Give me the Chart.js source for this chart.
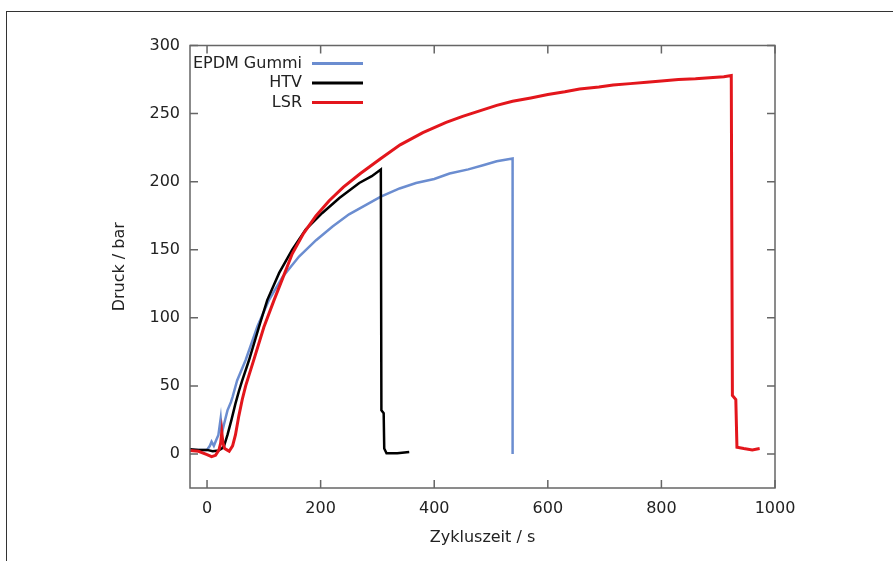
<!DOCTYPE html>
<html>
<head>
<meta charset="utf-8">
<script src="https://cdn.jsdelivr.net/npm/chart.js@4/dist/chart.umd.min.js"></script>
<style>
html, body { margin: 0; padding: 0; background: #fff; overflow: hidden; }
#wrap { position: relative; width: 893px; height: 561px; overflow: hidden; }
#wrap canvas { position: absolute; left: 0; top: 0; }
#frame { position: absolute; left: 6px; top: 11px; width: 2000px; height: 2000px; border: 1.5px solid #333; box-sizing: border-box; pointer-events: none; }
</style>
</head>
<body>
<div id="wrap">
    <canvas id="chart" width="893" height="561"></canvas>
    <div id="frame"></div>
</div>
<script>
// values (time in s, pressure in bar)
const epdmTime = [-30, -15, 0, 5, 8, 12, 16, 20, 24, 26, 30, 36, 42, 45, 53, 68, 89, 109, 133, 162, 192, 221, 250, 280, 306, 339, 368, 400, 427, 460, 486, 510, 538, 538];
const epdmPressure = [3, 3, 3, 6, 9, 6, 10, 14, 26, 15, 22, 32, 38, 42, 54, 69, 94, 113, 130, 145, 157, 167, 176, 183, 189, 195, 199, 202, 206, 209, 212, 215, 217, 0];

const htvTime = [-30, -15, 0, 10, 20, 26, 30, 36, 43, 50, 56, 62, 74, 92, 106, 127, 150, 174, 203, 233, 268, 290, 306, 307, 311, 312, 316, 335, 356];
const htvPressure = [3.5, 3, 3, 2, 2.5, 4, 6, 14, 25, 37, 46, 54, 69, 94, 113, 133, 150, 165, 177, 188, 199, 204, 209, 32, 30, 4, 0.5, 0.5, 1.5];

const lsrTime = [-30, -15, 0, 8, 15, 21, 24, 26, 28, 31, 35, 39, 45, 50, 56, 62, 68, 83, 100, 118, 135, 150, 170, 192, 215, 240, 270, 306, 340, 380, 421, 450, 480, 510, 538, 570, 600, 630, 656, 690, 715, 745, 774, 800, 830, 860, 891, 910, 923, 925, 931, 933, 945, 960, 973];
const lsrPressure = [2.5, 2, -0.5, -2, -1, 3, 8, 16, 8, 4, 3, 2, 6, 14, 28, 40, 50, 70, 93, 113, 131, 147, 162, 175, 186, 196, 206, 217, 227, 236, 243.5, 248, 252, 256, 259, 261.5, 264, 266, 268, 269.5, 271, 272, 273, 274, 275, 275.5, 276.5, 277, 278, 43, 40, 5, 4, 3, 4];

const seriesNames = ["EPDM Gummi", "HTV", "LSR"];
const seriesColors = ["#6b8dd0", "#000000", "#e3161c"];

const xTicks = [0, 200, 400, 600, 800, 1000];
const yTicks = [0, 50, 100, 150, 200, 250, 300];

const FONT = { family: "'DejaVu Sans', Verdana, sans-serif", size: 16 };
const TEXT = "#222";

function points(xs, ys) {
    return xs.map((x, i) => ({ x: x, y: ys[i] }));
}

// gnuplot style box: border, inward ticks on all four sides, legend top left
const gnuplotFrame = {
    id: "gnuplotFrame",
    afterDraw(chart) {
        const { ctx, chartArea: a, scales: { x, y } } = chart;
        ctx.save();
        ctx.strokeStyle = "#666";
        ctx.lineWidth = 1.5;
        ctx.strokeRect(a.left, a.top, a.right - a.left, a.bottom - a.top);

        ctx.beginPath();
        xTicks.forEach((v) => {
            const px = x.getPixelForValue(v);
            ctx.moveTo(px, a.bottom);
            ctx.lineTo(px, a.bottom - 8);
            ctx.moveTo(px, a.top);
            ctx.lineTo(px, a.top + 8);
        });
        yTicks.forEach((v) => {
            const py = y.getPixelForValue(v);
            ctx.moveTo(a.left, py);
            ctx.lineTo(a.left + 8, py);
            ctx.moveTo(a.right, py);
            ctx.lineTo(a.right - 8, py);
        });
        ctx.stroke();

        ctx.font = FONT.size + "px " + FONT.family;
        ctx.textAlign = "right";
        ctx.textBaseline = "middle";
        seriesNames.forEach((name, i) => {
            const ly = a.top + 18 + i * 19.5;
            ctx.fillStyle = TEXT;
            ctx.fillText(name, a.left + 112, ly);
            ctx.strokeStyle = seriesColors[i];
            ctx.lineWidth = 3;
            ctx.beginPath();
            ctx.moveTo(a.left + 122, ly);
            ctx.lineTo(a.left + 173, ly);
            ctx.stroke();
        });
        ctx.restore();
    },
};

const lineStyle = (i) => ({
    label: seriesNames[i],
    borderColor: seriesColors[i],
    backgroundColor: seriesColors[i],
    borderWidth: i === 2 ? 3 : 2.5,
    pointRadius: 0,
    showLine: true,
    tension: 0,
    order: 2 - i,
});

new Chart(document.getElementById("chart"), {
    type: "scatter",
    data: {
        datasets: [
            { ...lineStyle(0), data: points(epdmTime, epdmPressure) },
            { ...lineStyle(1), data: points(htvTime, htvPressure) },
            { ...lineStyle(2), data: points(lsrTime, lsrPressure) },
        ],
    },
    options: {
        responsive: false,
        animation: false,
        layout: { padding: { left: 100, top: 45.5, right: 118, bottom: 0 } },
        plugins: {
            legend: { display: false },
            tooltip: { enabled: false },
        },
        scales: {
            x: {
                type: "linear",
                min: -30,
                max: 1000,
                afterBuildTicks: (s) => { s.ticks = xTicks.map((v) => ({ value: v })); },
                afterFit: (s) => { s.height = 73; },
                grid: { display: false },
                border: { display: false },
                ticks: { font: FONT, color: TEXT, padding: 3, maxRotation: 0, callback: (v) => String(v) },
                title: { display: true, text: "Zykluszeit / s", font: FONT, color: TEXT, padding: { top: 0, bottom: 14 } },
            },
            y: {
                type: "linear",
                min: -25,
                max: 300,
                afterBuildTicks: (s) => { s.ticks = yTicks.map((v) => ({ value: v })); },
                afterFit: (s) => { s.width = 90; },
                grid: { display: false },
                border: { display: false },
                ticks: { font: FONT, color: TEXT, padding: 2, callback: (v) => String(v) },
                title: { display: true, text: "Druck / bar", font: FONT, color: TEXT, padding: { top: 10, bottom: 0 } },
            },
        },
    },
    plugins: [gnuplotFrame],
});
</script>
</body>
</html>
